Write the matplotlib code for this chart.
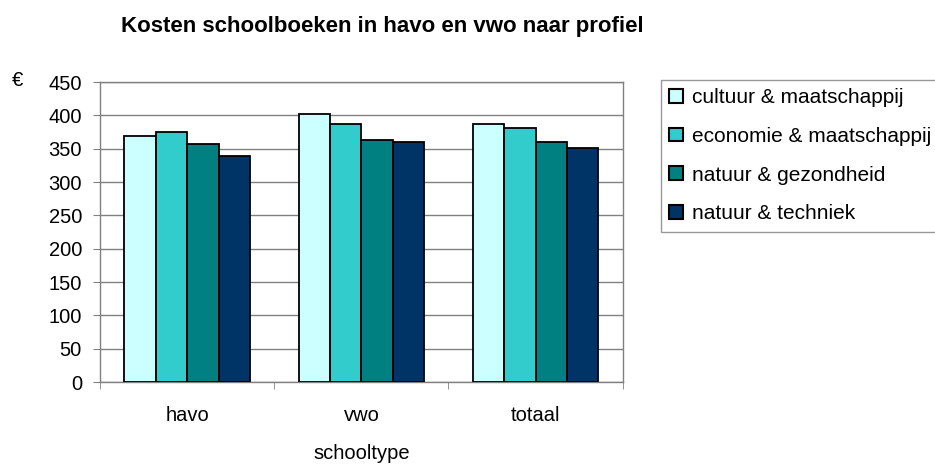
import numpy as np
import matplotlib

matplotlib.use("Agg")
import matplotlib.pyplot as plt
from matplotlib.patches import Patch

plt.rcParams["font.family"] = ["Liberation Sans", "DejaVu Sans"]

categories = ["havo", "vwo", "totaal"]
series_names = [
    "cultuur & maatschappij",
    "economie & maatschappij",
    "natuur & gezondheid",
    "natuur & techniek",
]
cultuur = [369, 402, 387]
economie = [375, 387, 381]
gezondheid = [357, 363, 360]
techniek = [339, 360, 351]
colors = ["#ccffff", "#33cccc", "#008080", "#003366"]

values = [cultuur, economie, gezondheid, techniek]

fig = plt.figure(figsize=(9.35, 4.66), dpi=100)
ax = fig.add_axes([0.107, 0.180, 0.559, 0.644])

x = np.arange(len(categories))
width = 0.18
for i, (vals, color) in enumerate(zip(values, colors)):
    ax.bar(
        x + (i - 1.5) * width,
        vals,
        width,
        color=color,
        edgecolor="black",
        linewidth=1.3,
        zorder=3,
    )

ax.set_xlim(-0.5, 2.5)
ax.set_ylim(0, 450)
ax.set_yticks(np.arange(0, 451, 50))
ax.yaxis.grid(True, color="#808080", linewidth=1, zorder=0)
ax.set_xticks(x)
ax.set_xticklabels(categories, fontsize=14.5)
ax.set_xticks([-0.5, 0.5, 1.5, 2.5], minor=True)
ax.tick_params(axis="x", which="major", length=0, pad=17)
ax.tick_params(axis="x", which="minor", length=5, color="#808080")
ax.tick_params(axis="y", length=5, color="#808080", labelsize=14.5, pad=8)
for s in ax.spines.values():
    s.set_color("#808080")
    s.set_linewidth(1)

ax.set_xlabel("schooltype", fontsize=14.5, labelpad=14)
fig.text(0.013, 0.828, "€", fontsize=14.5, va="center")
fig.text(0.409, 0.944, "Kosten schoolboeken in havo en vwo naar profiel",
         fontsize=16, fontweight="bold", va="center", ha="center")

handles = [Patch(facecolor=c, edgecolor="black", linewidth=1.5) for c in colors]
leg = fig.legend(
    handles,
    series_names,
    loc="upper left",
    bbox_to_anchor=(0.707, 0.829),
    fontsize=15,
    frameon=True,
    fancybox=False,
    handlelength=0.65,
    handleheight=0.65,
    handletextpad=0.45,
    labelspacing=0.95,
    borderpad=0.4,
    borderaxespad=0,
)
leg.get_frame().set_edgecolor("#808080")
leg.get_frame().set_linewidth(1)

fig.savefig("out.png", dpi=100)
